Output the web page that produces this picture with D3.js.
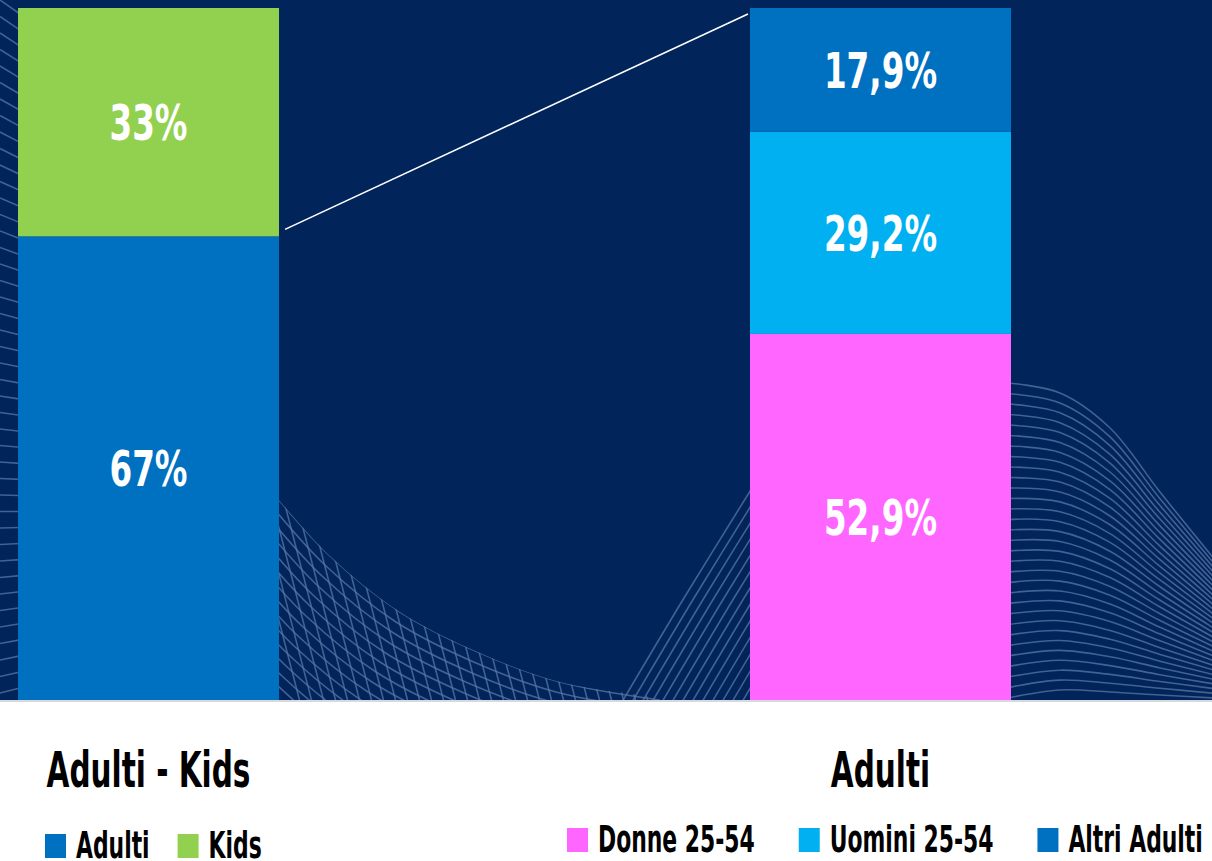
<!DOCTYPE html>
<html>
<head>
<meta charset="utf-8">
<script src="https://cdn.jsdelivr.net/npm/d3@7"></script>
<style>
  body { margin: 0; background: #fff; }
  svg { display: block; }
  text { font-family: "Liberation Sans Narrow", "DejaVu Sans Condensed", sans-serif; font-weight: bold; }
</style>
</head>
<body>
<div id="chart"></div>
<script>
// ================== DATOS ==================
const groups = ["Adulti - Kids", "Adulti"];

const kidsSeries = ["Adulti", "Kids"];
const kidsValues = [67, 33];
const kidsColors = ["#0070C0", "#92D050"];

const adultSeries = ["Donne 25-54", "Uomini 25-54", "Altri Adulti"];
const adultValues = [52.9, 29.2, 17.9];
const adultColors = ["#FF66FF", "#00B0F0", "#0070C0"];

// ================== CONFIGURACIÓN ==================
const svgWidth = 1212;
const svgHeight = 861;
const plotBottom = 700;
const navy = "#01245A";
// compresión horizontal para imitar la fuente condensada
const squeezeLabel = 0.74;
const squeezeTitle = 0.67;
const squeezeLegend = 0.64;

const it = d3.formatLocale({ decimal: ",", thousands: ".", grouping: [3], currency: ["", "€"] });
const fmtInt = v => it.format(".0f")(v) + "%";
const fmtDec = v => it.format(".1f")(v) + "%";

const svg = d3.select("#chart")
  .append("svg")
  .attr("width", svgWidth)
  .attr("height", svgHeight);

const xScale = d3.scaleBand()
  .domain(groups)
  .range([18, 1011])
  .paddingInner(0.6434)
  .paddingOuter(0);

const yScale = d3.scaleLinear()
  .domain([0, 100])
  .range([plotBottom, 8]);

// ================== FONDO ==================
svg.append("rect")
  .attr("width", svgWidth).attr("height", plotBottom)
  .attr("fill", navy);

svg.append("rect")
  .attr("y", plotBottom).attr("width", svgWidth).attr("height", svgHeight - plotBottom)
  .attr("fill", "#fff");

svg.append("rect")
  .attr("y", plotBottom).attr("width", svgWidth).attr("height", 2)
  .attr("fill", "#d6d9dd");

// líneas decorativas
const defs = svg.append("defs");
defs.append("clipPath").attr("id", "plotClip")
  .append("rect").attr("width", svgWidth).attr("height", plotBottom);

const envelope = [[279, 500], [330, 556], [400, 612], [480, 653], [560, 682], [660, 700]];
const curve = d3.line().curve(d3.curveCatmullRom);

defs.append("clipPath").attr("id", "meshClip")
  .append("path")
  .attr("d", curve(envelope.concat([[660, 702], [279, 702]])) + "Z");

const deco = svg.append("g")
  .attr("clip-path", "url(#plotClip)")
  .attr("fill", "none")
  .attr("stroke", "#5a76a6")
  .attr("stroke-opacity", 0.75)
  .attr("stroke-width", 1.6);

// borde izquierdo
for (let k = 0; k <= 42; k++) {
  const y0 = k * 16.5;
  const s = 14 - 19 * (k / 42);
  deco.append("path").attr("d", curve([[0, y0], [20, y0 + s]]));
}

// malla inferior izquierda
const mesh = deco.append("g").attr("clip-path", "url(#meshClip)");
for (let k = 0; k <= 20; k++) {
  mesh.append("path").attr("d", curve(envelope.map(([x, y]) => [x - k * 4, y + k * 10])));
}
for (let x0 = 240; x0 <= 700; x0 += 12) {
  mesh.append("path").attr("d", curve([[x0, 470], [x0 + 60, 702]]));
}

// líneas ascendentes junto a la barra rosa
for (let k = 0; k <= 13; k++) {
  const x0 = 622 + k * 10;
  deco.append("path").attr("d", curve([[x0, 702], [x0 + 62, 598], [x0 + 130, 488]]));
}

// onda derecha
for (let i = 0; i <= 30; i++) {
  const t = i / 30;
  deco.append("path").attr("d", curve([
    [1008, 383 + t * 315],
    [1060, 393 + t * 297],
    [1110, 428 + t * 264],
    [1160, 492 + t * 203],
    [1215, 560 + t * 138]
  ]));
}

// ================== BARRAS ==================
function drawStack(group, keys, values, colors, fmt) {
  const row = {};
  keys.forEach((k, i) => row[k] = values[i]);
  const stacked = d3.stack().keys(keys)([row]);

  const g = svg.append("g").attr("class", "stack");

  g.selectAll(".bar")
    .data(stacked)
    .enter()
    .append("rect")
    .attr("class", "bar")
    .attr("x", xScale(group))
    .attr("y", d => yScale(d[0][1]))
    .attr("width", xScale.bandwidth())
    .attr("height", d => yScale(d[0][0]) - yScale(d[0][1]))
    .attr("fill", (d, i) => colors[i]);

  g.selectAll(".label")
    .data(stacked)
    .enter()
    .append("text")
    .attr("class", "label")
    .attr("transform", d => {
      const cx = xScale(group) + xScale.bandwidth() / 2;
      const cy = (yScale(d[0][0]) + yScale(d[0][1])) / 2 + 18;
      return `translate(${cx},${cy}) scale(${squeezeLabel},1)`;
    })
    .attr("text-anchor", "middle")
    .attr("fill", "#fff")
    .attr("font-size", 49)
    .text((d, i) => fmt(values[i]));
}

drawStack(groups[0], kidsSeries, kidsValues, kidsColors, fmtInt);
drawStack(groups[1], adultSeries, adultValues, adultColors, fmtDec);

// línea de conexión
svg.append("line")
  .attr("x1", xScale(groups[0]) + xScale.bandwidth() + 6)
  .attr("y1", yScale(kidsValues[0]) - 7)
  .attr("x2", xScale(groups[1]) - 2)
  .attr("y2", yScale(100) + 6)
  .attr("stroke", "#fff")
  .attr("stroke-width", 1.6);

// ================== TÍTULOS ==================
svg.selectAll(".title")
  .data(groups)
  .enter()
  .append("text")
  .attr("class", "title")
  .attr("transform", d => `translate(${xScale(d) + xScale.bandwidth() / 2},787) scale(${squeezeTitle},1)`)
  .attr("text-anchor", "middle")
  .attr("font-size", 49)
  .attr("fill", "#000")
  .text(d => d);

// ================== LEYENDAS ==================
function drawLegend(x0, baseline, keys, colors, gap) {
  const g = svg.append("g").attr("class", "legend");
  let x = x0;
  keys.forEach((k, i) => {
    g.append("rect")
      .attr("x", x).attr("y", baseline - 24)
      .attr("width", 21).attr("height", 24)
      .attr("fill", colors[i]);
    const t = g.append("text")
      .attr("transform", `translate(${x + 31},${baseline}) scale(${squeezeLegend},1)`)
      .attr("font-size", 38)
      .attr("fill", "#000")
      .text(k);
    x += 31 + t.node().getComputedTextLength() * squeezeLegend + gap;
  });
}

drawLegend(45, 858, kidsSeries, kidsColors, 28);
drawLegend(567, 852, adultSeries, adultColors, 44);
</script>
</body>
</html>
